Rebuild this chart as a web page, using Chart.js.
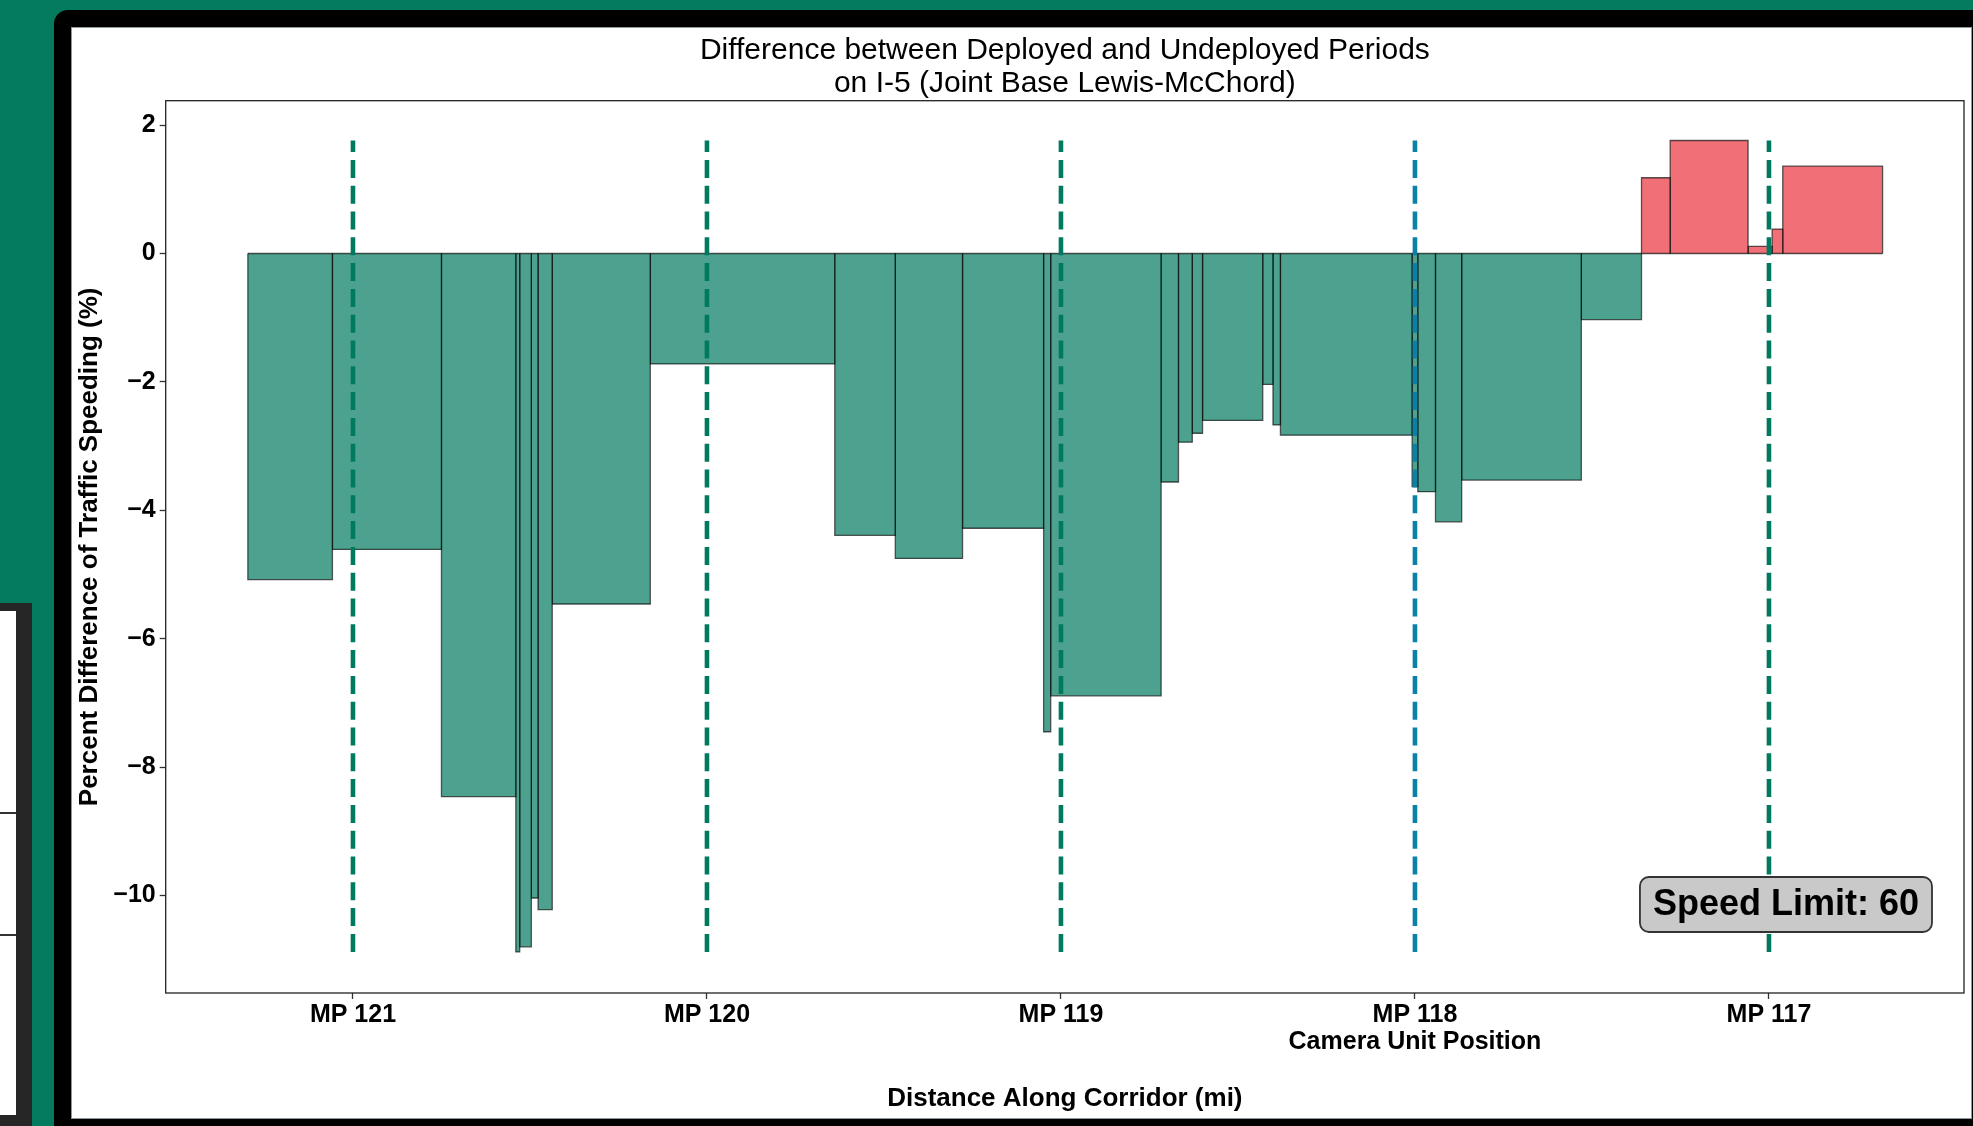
<!DOCTYPE html>
<html>
<head>
<meta charset="utf-8">
<title>Difference between Deployed and Undeployed Periods</title>
<script src="https://cdn.jsdelivr.net/npm/chart.js@4.4.1/dist/chart.umd.min.js"></script>
<style>
  html, body { margin: 0; padding: 0; width: 1973px; height: 1126px; overflow: hidden; background: #047a5e; }
  .side { position: absolute; left: 0; top: 603px; width: 32px; height: 540px; background: #262626; }
  .side .page { position: absolute; left: 0; top: 8px; width: 16px; height: 504px; background: #fff; }
  .side .rule { position: absolute; left: 0; width: 16px; height: 2px; background: #333; }
  .frame { position: absolute; left: 54px; top: 10px; width: 1960px; height: 1160px; background: #000; border-radius: 14px; }
  .panel { position: absolute; left: 72px; top: 28px; width: 1899px; height: 1090px; background: #fff; box-shadow: 0 0 0 1px #8e979c; }
  canvas { position: absolute; left: 0; top: 0; }
</style>
</head>
<body>
<div class="side"><div class="page"></div><div class="rule" style="top:209px"></div><div class="rule" style="top:331px"></div></div>
<div class="frame"></div>
<div class="panel"></div>
<canvas id="myChart" width="1973" height="1126"></canvas>
<script>
//----- data

// bin edges along the corridor, as mileposts (driving from MP 121 towards MP 117)
let binEdges = [121.297, 121.058, 120.750, 120.540, 120.529, 120.496, 120.477, 120.437,
  120.160, 119.639, 119.468, 119.278, 119.049, 119.029, 118.717, 118.668, 118.629,
  118.600, 118.430, 118.401, 118.380, 118.008, 117.992, 117.942, 117.868, 117.530,
  117.360, 117.279, 117.059, 116.991, 116.961, 116.679];

// percent difference of traffic speeding in each bin (deployed - undeployed)
let speedDiff = [-5.08, -4.61, -8.46, -10.88, -10.80, -10.04, -10.22, -5.46, -1.72,
  -4.39, -4.75, -4.28, -7.45, -6.89, -3.56, -2.94, -2.80, -2.60, -2.04,
  -2.67, -2.83, -3.63, -3.71, -4.18, -3.53, -1.03, 1.18, 1.76, 0.11,
  0.38, 1.36];

let mileposts = [121, 120, 119, 118, 117];
let mpLabels = ["MP 121", "MP 120", "MP 119", ["MP 118", "Camera Unit Position"], "MP 117"];
let cameraMP = 118;
let yTicks = [2, 0, -2, -4, -6, -8, -10];

let titleLines = ["Difference between Deployed and Undeployed Periods", "on I-5 (Joint Base Lewis-McChord)"];
let noteText = "Speed Limit: 60";

//----- styles
let fontFam = '"Liberation Sans", Arial, Helvetica, sans-serif';
let greenFill = "rgba(0, 122, 94, 0.7)";
let redFill = "rgba(235, 51, 61, 0.7)";
let edgeCol = "rgba(0, 0, 0, 0.65)";
let mpLineCol = "#007a5e";
let camLineCol = "#0a82a8";

Chart.defaults.font.family = fontFam;
Chart.defaults.color = "#000";

let lo = Math.min(...speedDiff);
let hi = Math.max(...speedDiff);

// marker lines at each milepost (on top of the bars)
let lineSets = mileposts.map((mp) => ({
  data: [{ x: mp, y: lo }, { x: mp, y: hi }],
  borderColor: mp === cameraMP ? camLineCol : mpLineCol,
  borderWidth: 4.6,
  borderDash: [18, 7.8],
  borderCapStyle: "butt",
  pointRadius: 0,
  fill: false,
}));

// edge of the bars along zero
let baseSet = {
  data: [{ x: binEdges[0], y: 0 }, { x: binEdges[binEdges.length - 1], y: 0 }],
  borderColor: edgeCol,
  borderWidth: 1.3,
  pointRadius: 0,
  fill: false,
};

// one rectangle per bin, filled down to zero
let barSets = speedDiff.map((v, i) => {
  let a = binEdges[i];
  let b = binEdges[i + 1];
  return {
    data: [{ x: a, y: 0 }, { x: a, y: v }, { x: b, y: v }, { x: b, y: 0 }],
    backgroundColor: v >= 0 ? redFill : greenFill,
    borderColor: edgeCol,
    borderWidth: 1.3,
    borderJoinStyle: "miter",
    pointRadius: 0,
    fill: "origin",
    tension: 0,
  };
});

let frameAndNote = {
  id: "frameAndNote",
  afterDraw(chart) {
    let ctx = chart.ctx;
    let a = chart.chartArea;
    ctx.save();
    ctx.strokeStyle = "#222";
    ctx.lineWidth = 1.3;
    ctx.strokeRect(a.left, a.top, a.right - a.left, a.bottom - a.top);

    ctx.font = "bold 36px " + fontFam;
    let w = ctx.measureText(noteText).width + 26;
    let h = 55;
    let x1 = a.right - 32;
    let y1 = a.bottom - 61;
    ctx.beginPath();
    ctx.roundRect(x1 - w, y1 - h, w, h, 9);
    ctx.fillStyle = "#c9c9c9";
    ctx.fill();
    ctx.strokeStyle = "#333";
    ctx.lineWidth = 1.8;
    ctx.stroke();
    ctx.fillStyle = "#000";
    ctx.textAlign = "center";
    ctx.textBaseline = "middle";
    ctx.fillText(noteText, x1 - w / 2, y1 - h / 2 + 1);
    ctx.restore();
  },
};

let tickGrid = {
  drawOnChartArea: false,
  drawTicks: true,
  tickLength: 6,
  tickColor: "#333",
  tickWidth: 1.3,
};

let mychart = document.getElementById("myChart").getContext("2d");
let barChart = new Chart(mychart, {
  type: "line",
  data: { datasets: [...lineSets, baseSet, ...barSets] },
  options: {
    responsive: false,
    devicePixelRatio: 1,
    animation: false,
    layout: { padding: { left: 72, top: 28, right: 9, bottom: 0 } },
    plugins: {
      legend: { display: false },
      tooltip: { enabled: false },
      title: {
        display: true,
        fullSize: false,
        text: titleLines,
        color: "#000",
        font: { size: 30, weight: "normal", lineHeight: 33 / 30 },
        padding: { top: 6.5, bottom: 0.2 },
      },
    },
    scales: {
      x: {
        type: "linear",
        reverse: true,
        min: 116.449,
        max: 121.529,
        afterBuildTicks: (s) => {
          s.ticks = mileposts.map((v) => ({ value: v }));
        },
        afterFit: (s) => {
          s.height = 133;
        },
        ticks: {
          autoSkip: false,
          maxRotation: 0,
          padding: 3,
          font: { size: 25, weight: "bold", lineHeight: 27 / 25 },
          callback: (val, idx) => mpLabels[idx],
        },
        grid: tickGrid,
        border: { display: false },
        title: {
          display: true,
          text: "Distance Along Corridor (mi)",
          font: { size: 26, weight: "bold" },
          padding: { top: 0, bottom: 11.4 },
        },
      },
      y: {
        type: "linear",
        min: -11.52,
        max: 2.38,
        afterBuildTicks: (s) => {
          s.ticks = yTicks.map((v) => ({ value: v }));
        },
        afterFit: (s) => {
          s.width = 93.7;
        },
        ticks: {
          padding: 4,
          font: { size: 25, weight: "bold" },
          callback: (val) => (val < 0 ? "\u2212" + Math.abs(val) : String(val)),
        },
        grid: tickGrid,
        border: { display: false },
        title: {
          display: true,
          text: "Percent Difference of Traffic Speeding (%)",
          font: { size: 26, weight: "bold" },
          padding: { top: 2, bottom: 0 },
        },
      },
    },
  },
  plugins: [frameAndNote],
});
</script>
</body>
</html>
